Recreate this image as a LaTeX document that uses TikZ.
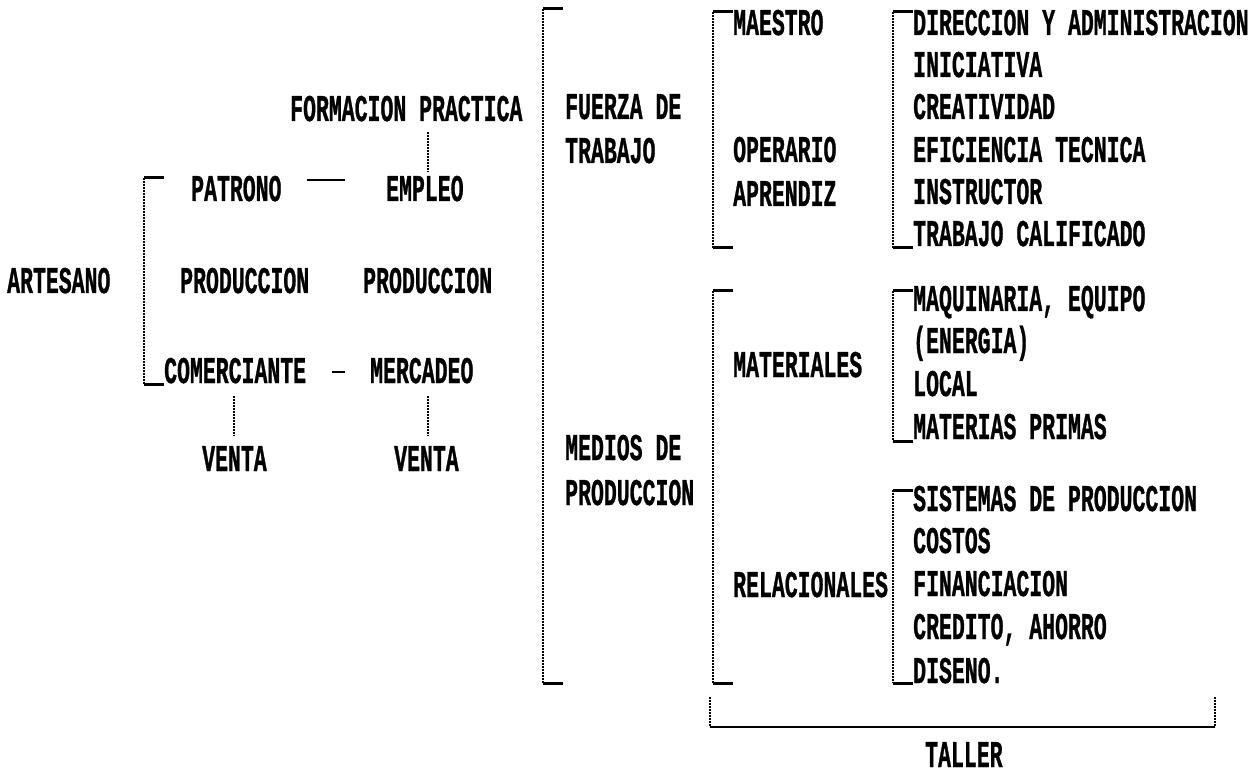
\documentclass[tikz,border=0pt]{standalone}
\usepackage{fontspec}
\newfontfamily\pmono{Liberation Mono}[BoldFeatures={FakeBold=1.2}]
\newcommand\lblfont{\pmono\bfseries\fontsize{21.5}{24}\selectfont}
\newcommand\T[1]{\scalebox{1}[1.75]{#1}}
\tikzset{
  lbl/.style={anchor=base west, inner sep=0pt, font=\lblfont},
  brk/.style={line width=1.3pt, black, dash pattern=on 2pt off 1pt},
  tick/.style={line width=3pt, line cap=butt},
  solidln/.style={line width=2.6pt},
}
\begin{document}
\begin{tikzpicture}[x=1pt,y=-1pt]
\useasboundingbox (0,0) rectangle (1260,775);
% ---- left part
\node[lbl] (art)  at (7,293)   {\T{ARTESANO}};
\node[lbl] (form) at (290,121) {\T{FORMACION PRACTICA}};
\node[lbl] (pat)  at (191,201) {\T{PATRONO}};
\node[lbl] (emp)  at (386,201) {\T{EMPLEO}};
\node[lbl] (prod1) at (180,293) {\T{PRODUCCION}};
\node[lbl] (prod2) at (363,293) {\T{PRODUCCION}};
\node[lbl] (com)  at (164,383) {\T{COMERCIANTE}};
\node[lbl] (mer)  at (370,383) {\T{MERCADEO}};
\node[lbl] (v1)   at (202,471) {\T{VENTA}};
\node[lbl] (v2)   at (394,471) {\T{VENTA}};
% left bracket
\coordinate (b1t) at (144,178);
\coordinate (b1b) at (144,384);
\draw[brk] (b1t) -- (b1b);
\draw[tick] (b1t) -- ++(20,0);
\draw[tick] (b1b) -- ++(20,0);
% connectors
\coordinate (d1a) at (307,180);
\coordinate (d1b) at (345,180);
\draw[solidln] (d1a) -- (d1b);
\coordinate (d2a) at (332,372);
\coordinate (d2b) at (345,372);
\draw[line width=2.6pt] (d2a) -- (d2b);
\coordinate (fe1) at (428,132);
\coordinate (fe2) at (428,172);
\draw[brk] (fe1) -- (fe2);
\coordinate (cv1) at (234,396);
\coordinate (cv2) at (234,436);
\draw[brk] (cv1) -- (cv2);
\coordinate (mv1) at (428,396);
\coordinate (mv2) at (428,436);
\draw[brk] (mv1) -- (mv2);
% ---- middle
\coordinate (b2t) at (543,9);
\coordinate (b2b) at (543,683);
\draw[brk] (b2t) -- (b2b);
\draw[tick] (b2t) -- ++(20,0);
\draw[tick] (b2b) -- ++(20,0);
\node[lbl] (fue) at (565,119) {\T{FUERZA DE}};
\node[lbl] (tra) at (565,163) {\T{TRABAJO}};
\node[lbl] (med) at (565,460) {\T{MEDIOS DE}};
\node[lbl] (pro3) at (565,505) {\T{PRODUCCION}};
% maestro group
\coordinate (b3t) at (713,12);
\coordinate (b3b) at (713,248);
\draw[brk] (b3t) -- (b3b);
\draw[tick] (b3t) -- ++(20,0);
\draw[tick] (b3b) -- ++(20,0);
\node[lbl] (mae) at (733,35)  {\T{MAESTRO}};
\node[lbl] (ope) at (733,162) {\T{OPERARIO}};
\node[lbl] (apr) at (733,206) {\T{APRENDIZ}};
% materiales group
\coordinate (b5t) at (713,291);
\coordinate (b5b) at (713,683);
\draw[brk] (b5t) -- (b5b);
\draw[tick] (b5t) -- ++(20,0);
\draw[tick] (b5b) -- ++(20,0);
\node[lbl] (mat) at (733,377) {\T{MATERIALES}};
\node[lbl] (rel) at (733,597) {\T{RELACIONALES}};
% ---- right column
\coordinate (b4t) at (893,12);
\coordinate (b4b) at (893,248);
\draw[brk] (b4t) -- (b4b);
\draw[tick] (b4t) -- ++(20,0);
\draw[tick] (b4b) -- ++(20,0);
\node[lbl] (r1) at (913,35)  {\T{DIRECCION Y ADMINISTRACION}};
\node[lbl] (r2) at (913,77)  {\T{INICIATIVA}};
\node[lbl] (r3) at (913,119) {\T{CREATIVIDAD}};
\node[lbl] (r4) at (913,162) {\T{EFICIENCIA TECNICA}};
\node[lbl] (r5) at (913,204) {\T{INSTRUCTOR}};
\node[lbl] (r6) at (913,246) {\T{TRABAJO CALIFICADO}};
\coordinate (b6t) at (893,291);
\coordinate (b6b) at (893,441);
\draw[brk] (b6t) -- (b6b);
\draw[tick] (b6t) -- ++(20,0);
\draw[tick] (b6b) -- ++(20,0);
\node[lbl] (m1) at (913,311) {\T{MAQUINARIA, EQUIPO}};
\node[lbl] (m2) at (913,353) {\T{(ENERGIA)}};
\node[lbl] (m3) at (913,396) {\T{LOCAL}};
\node[lbl] (m4) at (913,439) {\T{MATERIAS PRIMAS}};
\coordinate (b7t) at (893,490);
\coordinate (b7b) at (893,683);
\draw[brk] (b7t) -- (b7b);
\draw[tick] (b7t) -- ++(20,0);
\draw[tick] (b7b) -- ++(20,0);
\node[lbl] (s1) at (913,511) {\T{SISTEMAS DE PRODUCCION}};
\node[lbl] (s2) at (913,553) {\T{COSTOS}};
\node[lbl] (s3) at (913,596) {\T{FINANCIACION}};
\node[lbl] (s4) at (913,639) {\T{CREDITO, AHORRO}};
\node[lbl] (s5) at (913,683) {\T{DISENO.}};
% ---- taller
\coordinate (tl) at (710,727);
\coordinate (tr) at (1215,727);
\coordinate (tlu) at (710,697);
\coordinate (tru) at (1215,697);
\draw[brk] (tlu) -- (tl);
\draw[brk] (tru) -- (tr);
\draw[line width=2.6pt] (tl) -- (tr);
\node[lbl] (tal) at (925,767) {\T{TALLER}};
\end{tikzpicture}
\end{document}
